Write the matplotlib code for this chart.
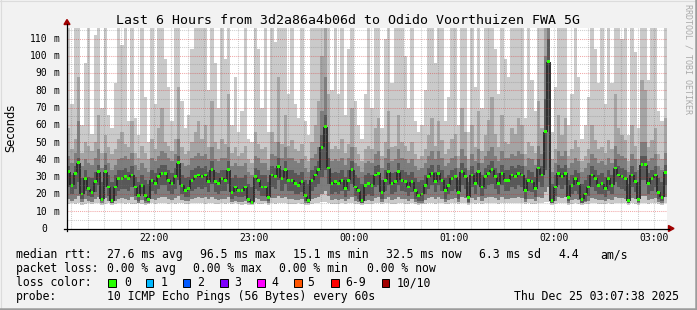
import matplotlib
matplotlib.use("Agg")
import matplotlib.pyplot as plt
from matplotlib.patches import Rectangle, Polygon
from matplotlib.lines import Line2D
import numpy as np

W, H = 697, 310
MONO = "DejaVu Sans Mono"

# 2-minute samples, 21:07:38 .. 03:07:38 (values in ms)
step_min = 2
start_hms = (21, 7, 38)

median = [
    33, 25, 32, 38, 20, 29, 23, 21, 27, 33, 17, 33, 24, 16, 24, 29, 29, 30, 29, 31,
    24, 19, 25, 19, 17, 28, 26, 30, 32, 32, 28, 26, 30, 38, 25, 22, 23, 28, 30, 31,
    30, 31, 27, 34, 27, 26, 29, 28, 34, 21, 24, 22, 22, 24, 17, 15.1, 30, 28, 24, 24,
    18, 31, 30, 36, 29, 34, 28, 28, 26, 25, 27, 19, 16, 28, 31, 34, 47, 59, 35, 26,
    27, 26, 28, 23, 28, 34, 24, 22, 16, 25, 26, 25, 31, 32, 21, 28, 33, 26, 27, 33,
    28, 27, 24, 27, 22, 19, 20, 25, 30, 32, 27, 32, 28, 22, 25, 29, 30, 21, 33, 30,
    18, 31, 26, 33, 24, 30, 32, 34, 30, 26, 32, 28, 28, 31, 30, 32, 31, 22, 28, 27,
    23, 35, 31, 56, 96.5, 16, 24, 32, 30, 32, 18, 25, 29, 26, 17, 20, 24, 31, 29, 25,
    26, 23, 29, 25, 35, 31, 30, 29, 16, 31, 27, 17, 37, 37, 26, 29, 31, 21, 18, 32.5,
]

ping_min = [
    14, 14.5, 14, 15, 13.5, 14, 14.5, 14, 15, 14.5, 13.5, 14, 14.5, 13.5, 14, 15, 14.5, 14, 14.5, 14,
    14, 14.5, 14, 13.5, 14, 14.5, 14, 15, 14.5, 15, 14, 14.5, 14, 15, 14.5, 14, 14, 14.5, 15, 14.5,
    14.5, 14, 14.5, 15, 14, 14, 14.5, 14, 15, 14, 14.5, 14, 13.5, 14, 13.5, 13.5, 14.5, 14, 14, 14.5,
    13.5, 14.5, 14, 15, 14.5, 15, 14, 14, 14, 14.5, 14, 13.5, 13.5, 14, 14.5, 15, 15.5, 15.5, 15, 14,
    14, 14, 14.5, 14, 14.5, 15, 14, 14, 13.5, 14, 14, 14, 14.5, 15, 14, 14.5, 15, 14, 14, 15,
    14.5, 14, 14, 14.5, 14, 13.5, 14, 14, 14.5, 15, 14, 15, 14.5, 14, 14, 14.5, 14.5, 14, 15, 14.5,
    13.5, 14.5, 14, 15, 14, 14.5, 15, 15, 14.5, 14, 15, 14.5, 14.5, 14.5, 14.5, 15, 14.5, 14, 14.5, 14,
    14, 15, 14.5, 15.5, 15.5, 13.5, 14, 14.5, 14.5, 15, 13.5, 14, 14.5, 14, 13.5, 14, 14, 14.5, 14.5, 14,
    14, 14, 14.5, 14, 15, 14.5, 14.5, 14.5, 13.5, 14.5, 14, 13.5, 15, 15, 14, 14.5, 14.5, 14, 13.5, 14.5,
]

ping_lo = [
    17, 16, 17, 19, 15.5, 17, 16, 15.5, 17, 18, 15, 17.5, 16, 14.5, 16, 17, 17.5, 17, 16.5, 18,
    16.5, 15, 16.5, 15, 15, 17, 16.5, 17.5, 18, 18, 17, 16.5, 17.5, 19, 16.5, 16, 16, 17, 17.5, 18,
    17.5, 18, 17, 18.5, 17, 16.5, 17, 17, 18.5, 15.5, 16, 15.5, 15.5, 16, 14.5, 14, 17.5, 17, 16, 16,
    15, 17.5, 17.5, 19, 17.5, 18.5, 17, 17, 16.5, 16.5, 17, 15, 14.5, 17, 17.5, 18.5, 20, 22, 19, 16.5,
    17, 16.5, 17, 16, 17, 18.5, 16, 15.5, 14.5, 16, 16.5, 16, 17.5, 18, 15.5, 17, 18, 16.5, 17, 18,
    17, 17, 16, 17, 15.5, 15, 15, 16.5, 17.5, 18, 17, 18, 17, 15.5, 16.5, 17, 17.5, 15.5, 18, 17.5,
    15, 17.5, 16.5, 18, 16, 17.5, 18, 18.5, 17.5, 16.5, 18, 17, 17, 17.5, 17.5, 18, 17.5, 15.5, 17, 17,
    16, 18.5, 17.5, 21, 24, 14.5, 16, 18, 17.5, 18, 15, 16.5, 17, 16.5, 14.5, 15.5, 16, 17.5, 17, 16.5,
    16.5, 16, 17, 16.5, 18.5, 17.5, 17.5, 17, 14.5, 17.5, 17, 15, 19, 19, 16.5, 17, 17.5, 15.5, 15, 18,
]

core_lo = [
    24, 20, 23, 27, 17, 22, 19, 18, 21, 25, 16, 24, 19, 15, 19, 22, 23, 23, 22, 24,
    19, 16, 20, 16, 15.5, 22, 20, 23, 25, 25, 22, 20, 23, 28, 20, 18, 18, 22, 23, 24,
    23, 24, 21, 26, 21, 20, 22, 22, 26, 17, 19, 18, 18, 19, 15.5, 14.5, 23, 22, 19, 19,
    16, 24, 23, 28, 22, 26, 22, 22, 20, 20, 21, 16, 15, 22, 24, 26, 30, 34, 26, 20,
    21, 20, 22, 18, 22, 26, 19, 17, 15, 19, 20, 19, 24, 25, 17, 22, 25, 20, 21, 25,
    22, 21, 19, 21, 17, 16, 16, 20, 23, 25, 21, 25, 22, 17, 20, 22, 23, 17, 25, 23,
    15.5, 24, 20, 25, 19, 23, 25, 26, 23, 20, 25, 22, 22, 24, 23, 25, 24, 17, 22, 21,
    18, 27, 24, 34, 60, 15, 19, 25, 23, 25, 16, 20, 22, 20, 15, 16, 19, 24, 22, 20,
    20, 18, 22, 20, 27, 24, 23, 22, 15, 24, 21, 15.5, 28, 28, 20, 22, 24, 17, 16, 25,
]

core_hi = [
    36, 31, 36, 41, 29, 34, 30, 29, 33, 37, 27, 37, 31, 27, 31, 34, 34, 35, 33, 36,
    30, 27, 31, 28, 26, 34, 32, 35, 37, 37, 34, 32, 35, 42, 31, 29, 30, 34, 35, 36,
    35, 36, 33, 39, 33, 32, 34, 34, 39, 29, 31, 29, 29, 31, 26, 24, 35, 34, 31, 31,
    27, 36, 35, 41, 34, 39, 34, 34, 32, 31, 33, 28, 26, 34, 36, 39, 54, 66, 41, 32,
    33, 32, 34, 30, 34, 39, 31, 29, 26, 31, 32, 31, 36, 37, 28, 34, 38, 32, 33, 38,
    34, 33, 31, 33, 29, 27, 28, 31, 35, 37, 33, 37, 34, 29, 31, 34, 35, 28, 38, 35,
    27, 36, 32, 38, 31, 35, 37, 39, 35, 32, 37, 34, 34, 36, 35, 37, 36, 29, 34, 33,
    30, 40, 36, 75, 110, 26, 31, 37, 35, 37, 28, 31, 34, 32, 26, 28, 31, 36, 34, 31,
    32, 30, 34, 31, 40, 36, 35, 34, 26, 36, 33, 27, 42, 42, 32, 34, 36, 29, 27, 37,
]

ping_hi3 = [
    42, 38, 44, 62, 36, 40, 38, 37, 41, 46, 35, 44, 38, 34, 37, 40, 41, 42, 40, 44,
    37, 34, 38, 35, 33, 41, 39, 42, 45, 44, 41, 39, 43, 52, 38, 36, 37, 41, 42, 44,
    42, 43, 40, 47, 40, 39, 41, 41, 47, 36, 38, 36, 36, 38, 33, 31, 42, 41, 38, 38,
    34, 43, 42, 50, 41, 47, 41, 41, 39, 38, 40, 35, 33, 41, 43, 47, 68, 88, 50, 39,
    40, 39, 41, 37, 41, 47, 38, 36, 33, 38, 39, 38, 43, 45, 35, 41, 46, 39, 40, 46,
    41, 40, 38, 40, 36, 34, 35, 38, 42, 45, 40, 45, 41, 36, 38, 41, 42, 35, 46, 42,
    34, 43, 39, 46, 38, 42, 45, 47, 42, 39, 45, 41, 41, 43, 42, 45, 43, 36, 41, 40,
    37, 48, 43, 100, 120, 33, 38, 45, 42, 45, 35, 38, 41, 39, 33, 35, 38, 43, 41, 38,
    39, 37, 41, 38, 48, 43, 42, 41, 33, 43, 40, 34, 50, 50, 39, 41, 43, 36, 34, 44,
]

ping_hi2 = [
    58, 46, 52, 88, 44, 50, 48, 45, 50, 66, 44, 54, 47, 43, 46, 52, 56, 49, 47, 62,
    44, 41, 48, 44, 40, 52, 46, 58, 70, 50, 48, 45, 52, 82, 47, 43, 45, 50, 56, 62,
    52, 60, 47, 74, 50, 46, 52, 49, 78, 44, 47, 42, 44, 48, 40, 38, 56, 49, 46, 47,
    40, 56, 50, 88, 49, 66, 48, 51, 46, 45, 49, 42, 39, 50, 60, 74, 100, 120, 78, 46,
    48, 46, 52, 44, 49, 70, 47, 43, 39, 46, 48, 46, 58, 64, 42, 50, 68, 47, 48, 66,
    50, 48, 45, 50, 43, 40, 42, 46, 54, 64, 48, 62, 51, 43, 46, 52, 55, 42, 70, 56,
    40, 60, 47, 68, 45, 54, 63, 76, 55, 47, 66, 50, 49, 58, 55, 64, 60, 43, 50, 48,
    44, 74, 58, 120, 120, 40, 46, 66, 54, 64, 42, 46, 51, 47, 39, 42, 46, 60, 51, 46,
    47, 44, 51, 46, 78, 58, 54, 51, 39, 60, 48, 40, 86, 80, 47, 51, 58, 43, 40, 64,
]

ping_max = [
    120, 72, 120, 120, 60, 96, 120, 55, 112, 120, 70, 120, 66, 58, 84, 120, 106, 120, 62, 120,
    64, 54, 120, 76, 50, 120, 72, 120, 120, 98, 82, 62, 120, 120, 74, 58, 66, 104, 120, 120,
    120, 120, 80, 120, 96, 70, 120, 98, 120, 60, 88, 56, 68, 120, 52, 50, 120, 104, 70, 120,
    56, 120, 108, 120, 120, 120, 78, 120, 72, 64, 120, 62, 54, 120, 120, 120, 120, 120, 120, 80,
    120, 78, 120, 66, 104, 120, 74, 60, 52, 78, 120, 70, 120, 120, 58, 110, 120, 84, 120, 120,
    120, 100, 70, 120, 62, 56, 60, 80, 120, 120, 96, 120, 118, 62, 76, 120, 120, 60, 120, 120,
    56, 120, 82, 120, 70, 120, 120, 120, 104, 78, 120, 98, 88, 120, 120, 120, 120, 64, 116, 86,
    68, 120, 120, 120, 120, 56, 82, 120, 120, 120, 60, 78, 120, 88, 52, 60, 76, 120, 104, 84,
    120, 72, 120, 84, 120, 120, 110, 120, 54, 120, 102, 58, 120, 120, 86, 120, 120, 68, 62, 120,
]

y_ticks = [0, 10, 20, 30, 40, 50, 60, 70, 80, 90, 100, 110]
hour_labels = ["22:00", "23:00", "00:00", "01:00", "02:00", "03:00"]

rtt_items = ["27.6 ms avg", "96.5 ms max", "15.1 ms min", "32.5 ms now", "6.3 ms sd", "4.4", "am/s"]
loss_items = ["0.00 % avg", "0.00 % max", "0.00 % min", "0.00 % now"]
loss_labels = ["0", "1", "2", "3", "4", "5", "6-9", "10/10"]
loss_colors = ["#26ff00", "#00b8ff", "#0059ff", "#7e00ff", "#ff00ff", "#ff5500", "#ff0000", "#a10000"]
smoke_greys = ["#cacaca", "#a4a4a4", "#7e7e7e", "#585858"]


def fx(px):
    return px / W


def fy(py):
    return 1 - py / H


def main():
    fig = plt.figure(figsize=(W / 100, H / 100), dpi=100, facecolor="#f2f2f2")

    x0, x1, y0, y1 = 67, 667, 228.5, 28
    ax = fig.add_axes([fx(x0), fy(y0), (x1 - x0) / W, (y0 - y1) / H])
    ax.set_facecolor("white")
    n = len(median)
    edges = np.arange(n + 1) * step_min
    centers = edges[:-1] + step_min / 2
    ax.set_xlim(0, 360)
    ax.set_ylim(0, (y0 - y1) / 1.727)
    for s in ax.spines.values():
        s.set_visible(False)
    ax.set_xticks([])
    ax.set_yticks([])

    # smoke, outer pings lightest
    ax.stairs(ping_max, edges, baseline=ping_min, fill=True, color=smoke_greys[0], lw=0, zorder=1)
    ax.stairs(ping_hi2, edges, baseline=ping_lo, fill=True, color=smoke_greys[1], lw=0, zorder=1.1)
    ax.stairs(ping_hi3, edges, baseline=ping_lo, fill=True, color=smoke_greys[2], lw=0, zorder=1.2)
    ax.stairs(core_hi, edges, baseline=core_lo, fill=True, color=smoke_greys[3], lw=0, zorder=1.3)

    med = np.array(median, dtype=float)
    ax.vlines(edges[1:-1], np.minimum(med[:-1], med[1:]), np.maximum(med[:-1], med[1:]),
              color="#2e2e2e", lw=1.4, zorder=2)
    ax.bar(centers, 1.6, bottom=med - 0.8, width=1.7, color=loss_colors[0], lw=0, zorder=3)

    # grid on top of the graph, like rrdtool
    off = (10 - (start_hms[1] % 10)) - start_hms[2] / 60
    minor_grey = (0.45, 0.45, 0.45, 0.35)
    major_red = (0.85, 0.1, 0.1, 0.38)
    dots = (0, (1, 1))
    k = 0
    while off + 10 * k < 360:
        xv = off + 10 * k
        minute = (start_hms[1] + int(round(xv))) % 60
        col = major_red if minute % 30 == 0 else minor_grey
        ax.axvline(xv, color=col, lw=0.75, ls=dots, zorder=5)
        k += 1
    for yv in range(5, 116, 5):
        col = major_red if yv % 10 == 0 else minor_grey
        ax.axhline(yv, color=col, lw=0.75, ls=dots, zorder=5)

    # axes lines and arrows
    dark_red = "#a00000"
    fig.add_artist(Line2D([fx(67), fx(67)], [fy(231), fy(24)], color="black", lw=0.9))
    fig.add_artist(Line2D([fx(64), fx(669)], [fy(228.5), fy(228.5)], color="black", lw=0.9))
    fig.add_artist(Polygon([[fx(64), fy(24.5)], [fx(70), fy(24.5)], [fx(67), fy(19.5)]],
                           closed=True, color=dark_red, transform=fig.transFigure))
    fig.add_artist(Polygon([[fx(668.5), fy(225.5)], [fx(668.5), fy(231.5)], [fx(674), fy(228.5)]],
                           closed=True, color=dark_red, transform=fig.transFigure))

    # y labels
    for v in y_ticks:
        py = y0 - v * 1.727
        fig.text(fx(47.5), fy(py + 3.4), str(v), ha="right", va="baseline",
                 family=MONO, fontsize=7, color="black")
        if v:
            fig.text(fx(53.5), fy(py + 3.4), "m", ha="left", va="baseline",
                     family=MONO, fontsize=7, color="black")

    # x labels
    first_hour = (60 - start_hms[1]) - start_hms[2] / 60
    for i, lab in enumerate(hour_labels):
        xv = first_hour + 60 * i
        px = x0 + xv * (x1 - x0) / 360
        fig.text(fx(px), fy(240.7), lab, ha="center", va="baseline",
                 family=MONO, fontsize=7, color="black")

    # titles
    fig.text(fx(347.5), fy(24), "Last 6 Hours from 3d2a86a4b06d to Odido Voorthuizen FWA 5G",
             ha="center", va="baseline", family=MONO, fontsize=9.55, color="black")
    fig.text(fx(11), fy(127.5), "Seconds", rotation=90, ha="center", va="center",
             family="DejaVu Sans", fontsize=8.3, color="black")
    fig.text(fx(688), fy(59), "RRDTOOL / TOBI OETIKER", rotation=270, ha="center", va="center",
             family=MONO, fontsize=6, color="#aaaaaa")

    # legend
    lkw = dict(ha="left", va="baseline", family=MONO, fontsize=8.3, color="black")
    b1, b2, b3, b4 = 258.3, 272.3, 286.3, 300.3
    fig.text(fx(16), fy(b1), "median rtt:", **lkw)
    for px, s in zip([107.3, 200, 293.3, 386, 479.3, 558.3, 600], rtt_items):
        fig.text(fx(px), fy(b1), s, **lkw)
    fig.text(fx(16), fy(b2), "packet loss:", **lkw)
    for px, s in zip([107.3, 193.3, 279.3, 366.5], loss_items):
        fig.text(fx(px), fy(b2), s, **lkw)
    fig.text(fx(16), fy(b3), "loss color:", **lkw)
    sq_x = [108.3, 145.7, 182.7, 220, 257.3, 294.3, 331, 381.7]
    lab_x = [124, 161, 197, 234, 271, 307, 345, 397]
    for sx, lx, lab, c in zip(sq_x, lab_x, loss_labels, loss_colors):
        fig.add_artist(Rectangle((fx(sx), fy(286.5)), 7.7 / W, 8 / H, transform=fig.transFigure,
                                 facecolor=c, edgecolor="black", lw=0.7))
        fig.text(fx(lx), fy(b3), lab, **lkw)
    fig.text(fx(16), fy(b4), "probe:", **lkw)
    fig.text(fx(107.3), fy(b4), "10 ICMP Echo Pings (56 Bytes) every 60s", **lkw)
    fig.text(fx(679.5), fy(b4), "Thu Dec 25 03:07:38 2025", **dict(lkw, ha="right"))

    # frame
    fig.add_artist(Line2D([fx(0), fx(697)], [fy(0.5), fy(0.5)], color="#dcdcdc", lw=0.8))
    fig.add_artist(Line2D([fx(0.5), fx(0.5)], [fy(0), fy(310)], color="#dcdcdc", lw=0.8))
    fig.add_artist(Line2D([fx(0), fx(697)], [fy(308.8), fy(308.8)], color="#9c9c9c", lw=1.8))
    fig.add_artist(Line2D([fx(695.8), fx(695.8)], [fy(0), fy(310)], color="#9c9c9c", lw=1.8))

    fig.savefig("out.png", dpi=100, facecolor=fig.get_facecolor())


if __name__ == "__main__":
    main()
